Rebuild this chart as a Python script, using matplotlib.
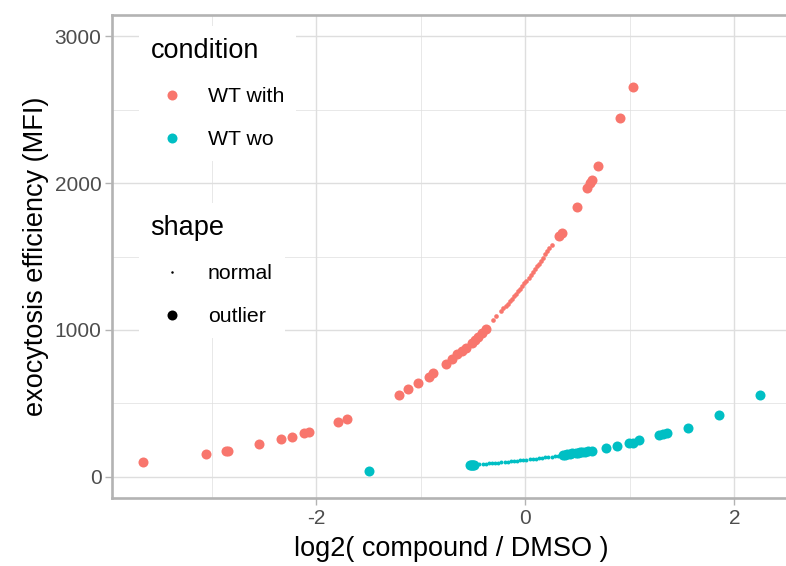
import matplotlib
matplotlib.use("Agg")
import matplotlib.pyplot as plt
from matplotlib.lines import Line2D

# ---------------- data ----------------
conditions = ["WT with", "WT wo"]
colors = {"WT with": "#F8766D", "WT wo": "#00BFC4"}

# WT with - outliers
with_out_x = [-3.657, -3.060, -2.866, -2.844, -2.547, -2.337, -2.234, -2.122, -2.075,
              -1.794, -1.705, -1.208, -1.122, -1.032, -0.923, -0.882, -0.764, -0.706,
              -0.653, -0.611, -0.569, -0.515, -0.483, -0.452, -0.419, -0.378,
              0.323, 0.346, 0.496, 0.586, 0.617, 0.633, 0.697, 0.904, 1.026]
with_out_y = [102, 154, 177, 179, 222, 256, 274, 297, 306,
              372, 397, 560, 597, 638, 683, 710, 769, 801,
              835, 859, 880, 909, 932, 954, 977, 1005,
              1641, 1657, 1839, 1964, 1998, 2020, 2116, 2440, 2651]

# WT with - normal
with_norm_x = [-0.31, -0.28, -0.23, -0.21, -0.19, -0.17, -0.15, -0.13, -0.11, -0.09,
               -0.07, -0.05, -0.03, -0.01, 0.01, 0.03, 0.05, 0.07, 0.09, 0.11,
               0.13, 0.15, 0.17, 0.19, 0.21, 0.23, 0.25]
with_norm_y = [1070, 1093, 1132, 1147, 1163, 1179, 1196, 1213, 1230, 1247,
               1264, 1282, 1300, 1318, 1336, 1355, 1374, 1393, 1412, 1432,
               1452, 1472, 1493, 1514, 1535, 1556, 1578]

# WT wo - outliers
wo_out_x = [-1.495, -0.53, -0.52, -0.51, -0.50, -0.49,
            0.36, 0.38, 0.40, 0.43, 0.45, 0.48, 0.50, 0.52, 0.538, 0.569, 0.60, 0.633,
            0.770, 0.873, 0.993, 1.032, 1.089, 1.280, 1.319, 1.351, 1.552, 1.855, 2.247]
wo_out_y = [41, 81, 82, 82, 83, 84,
            150, 152, 154, 157, 160, 163, 165, 168, 167, 171, 177, 180,
            195, 211, 229, 233, 252, 284, 291, 297, 336, 425, 555]

# WT wo - normal
wo_norm_x = [-0.44, -0.41, -0.38, -0.35, -0.32, -0.29, -0.26, -0.23, -0.20, -0.17,
             -0.14, -0.11, -0.08, -0.05, -0.02, 0.01, 0.04, 0.07, 0.10, 0.13,
             0.16, 0.19, 0.22, 0.25, 0.28, 0.31, 0.34]
wo_norm_y = [86, 88, 90, 92, 94, 96, 98, 100, 102, 104,
             106, 108, 111, 113, 115, 118, 120, 123, 125, 128,
             131, 133, 136, 139, 142, 145, 148]

x_ticks = [-2, 0, 2]
x_minor = [-3, -1, 1]
y_ticks = [0, 1000, 2000, 3000]
y_minor = [500, 1500, 2500]

# ---------------- figure ----------------
plt.rcParams["font.family"] = ["Liberation Sans", "DejaVu Sans"]
W, H = 786, 566
fig = plt.figure(figsize=(W / 100, H / 100), dpi=100)
left_px, right_px, top_px, bot_px = 112.5, 791, 15, 498
ax = fig.add_axes([left_px / W, 1 - bot_px / H, (right_px - left_px) / W, (bot_px - top_px) / H])

grid_c = "#DEDEDE"
for v in x_minor:
    ax.axvline(v, color=grid_c, lw=0.5, zorder=0)
for v in y_minor:
    ax.axhline(v, color=grid_c, lw=0.5, zorder=0)
for v in x_ticks:
    ax.axvline(v, color=grid_c, lw=1.0, zorder=0)
for v in y_ticks:
    ax.axhline(v, color=grid_c, lw=1.0, zorder=0)

big = 52
ax.scatter(with_norm_x, with_norm_y, s=11, color=colors["WT with"], lw=0, zorder=3)
ax.scatter(wo_norm_x, wo_norm_y, s=8, color=colors["WT wo"], lw=0, zorder=3)
ax.scatter(with_out_x, with_out_y, s=big, color=colors["WT with"], lw=0, zorder=3)
ax.scatter(wo_out_x, wo_out_y, s=big, color=colors["WT wo"], lw=0, zorder=3)

ax.set_xlim(-3.952, 2.542)
ax.set_ylim(-143, 3143)
ax.set_xticks(x_ticks)
ax.set_yticks(y_ticks)
ax.set_xticklabels([str(t) for t in x_ticks])
ax.set_yticklabels([str(t) for t in y_ticks])
ax.tick_params(axis="both", colors="#B3B3B3", width=1.0, length=5, labelsize=15,
               labelcolor="#4D4D4D", pad=3)
for s in ax.spines.values():
    s.set_color("#B3B3B3")
    s.set_linewidth(1.9)

ax.set_xlabel("log2( compound / DMSO )", fontsize=19.5, labelpad=6)
ax.set_ylabel("exocytosis efficiency (MFI)", fontsize=19.5, labelpad=4)

# ---------------- legends ----------------
ax_w = right_px - left_px
ax_h = bot_px - top_px
leg_kw = dict(loc="upper left", borderaxespad=0, frameon=True, fancybox=False, framealpha=1,
              edgecolor="none", facecolor="white", fontsize=15.3, title_fontsize=19.5,
              handlelength=2.0, handletextpad=0.7, labelspacing=1.12, borderpad=0.55,
              alignment="left")

h1 = [Line2D([], [], ls="", marker="o", ms=7.2, mew=0, color=colors[c]) for c in conditions]
leg1 = ax.legend(h1, conditions, title="condition",
                 bbox_to_anchor=((139 - left_px) / ax_w, 1 - (26 - top_px) / ax_h), **leg_kw)
ax.add_artist(leg1)

shape_labels = ["normal", "outlier"]
h2 = [Line2D([], [], ls="", marker="o", ms=1.8, mew=0, color="black"),
      Line2D([], [], ls="", marker="o", ms=7.2, mew=0, color="black")]
leg2 = ax.legend(h2, shape_labels, title="shape",
                 bbox_to_anchor=((139 - left_px) / ax_w, 1 - (203 - top_px) / ax_h), **leg_kw)
leg1.set_zorder(5)
leg2.set_zorder(5)

fig.savefig("out.png", dpi=100)
